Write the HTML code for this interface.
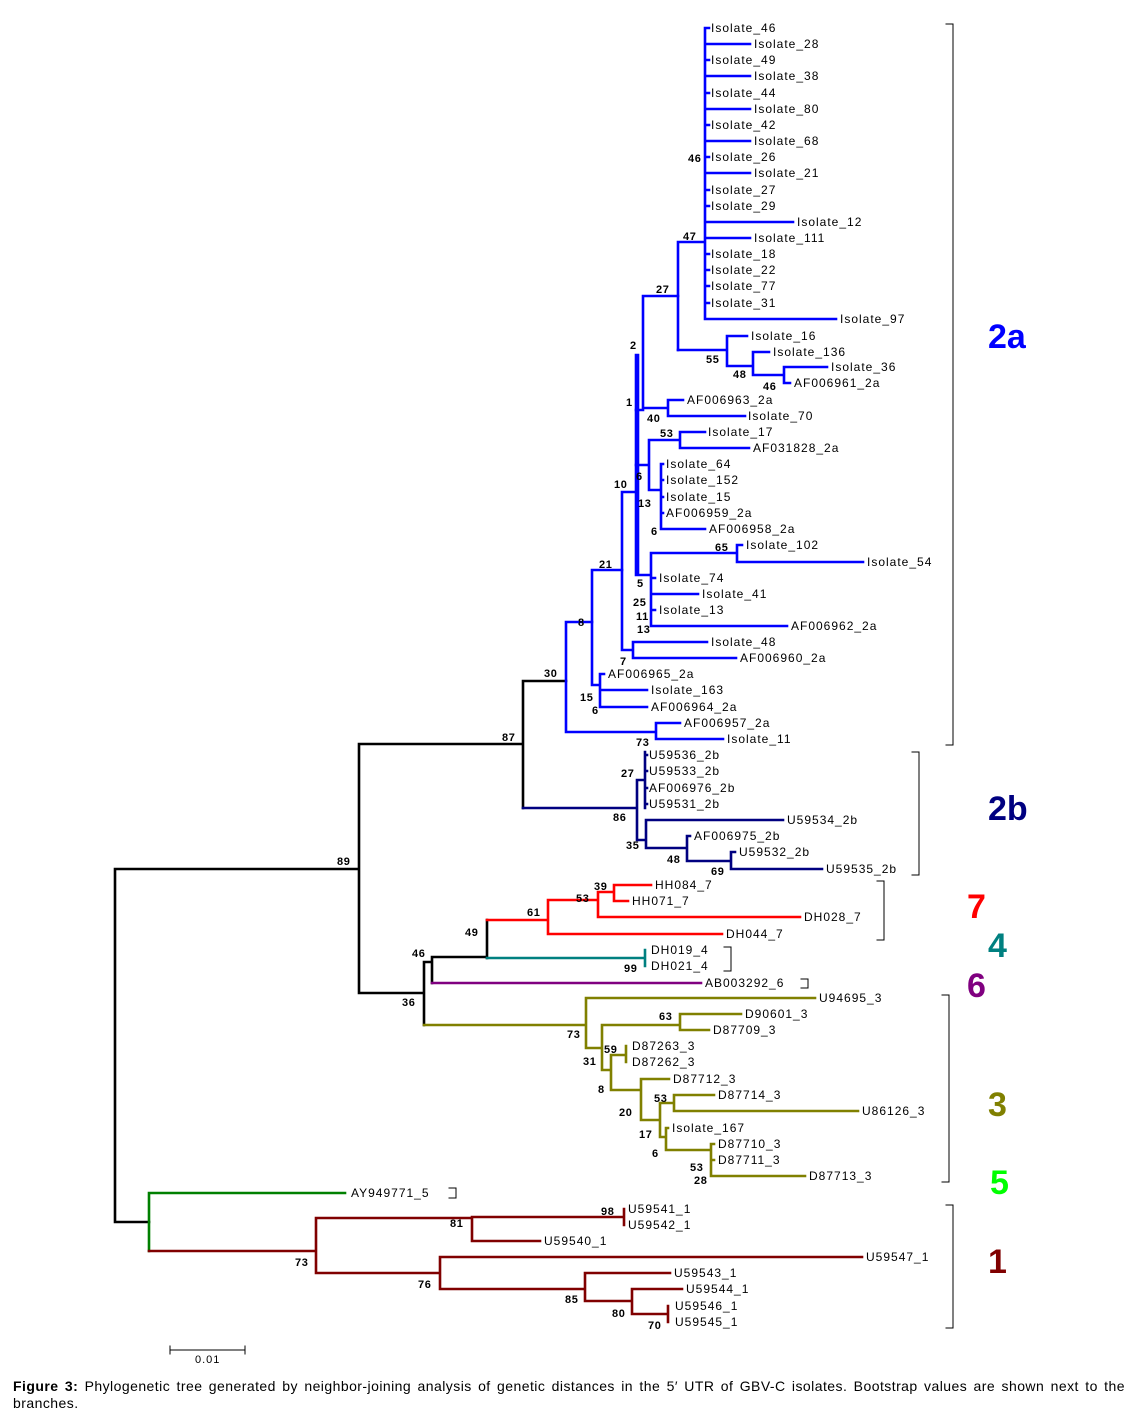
<!DOCTYPE html>
<html><head><meta charset="utf-8"><style>
body{margin:0;background:#fff;width:1132px;height:1419px;overflow:hidden;font-family:"Liberation Sans",sans-serif}
svg{position:absolute;left:0;top:0}
.l{font-size:12px;fill:#000;letter-spacing:1px}
.b{font-size:11px;font-weight:bold;fill:#000;letter-spacing:0.6px}
.cap{position:absolute;left:13px;top:1378px;width:1112px;font-size:14px;line-height:17px;text-align:justify;letter-spacing:0.45px}
</style></head><body>
<svg width="1132" height="1419" xmlns="http://www.w3.org/2000/svg" fill="none" stroke-width="2.6" stroke-linecap="square">
<g stroke="#000">
<path d="M115 869V1222M115 869H359M115 1222H149M359 744V993M359 744H523M359 993H424M424 962V1025M424 962H432M432 957V983M432 957H487M487 920V958M523 681V808M523 681H566"/>
</g>
<g stroke="#0000ff">
<path d="M566 622V732M566 622H592M566 732H656M656 723V739M656 723H680M656 739H723"/>
<path d="M592 570V685M592 570H622M592 685H600M600 674V707M600 674H604M600 690H647M600 707H647"/>
<path d="M622 492V650M622 492H636M622 650H633M633 642V658M633 642H707M633 658H736"/>
<path d="M636 355V575M638 355V575M636 575H651M651 553V626M651 553H737M737 545V562M737 545H742M737 562H863M651 578H655M651 594H698M651 610H655M651 626H787"/>
<path d="M636 410H643M643 296V410M643 296H678M643 408H668M668 400V416M668 400H683M668 416H745"/>
<path d="M636 465H649M649 440V490M649 440H680M680 432V448M680 432H705M680 448H749M649 490H661M661 464V529M661 464H663M661 480H663M661 497H663M661 513H663M661 529H705"/>
<path d="M678 242V350M678 242H705M705 28V319M705 28H709M705 44H750M705 60H709M705 76H750M705 93H709M705 109H750M705 125H709M705 141H750M705 157H709M705 173H750M705 190H709M705 206H709M705 222H793M705 238H750M705 254H709M705 270H709M705 286H709M705 303H709M705 319H836"/>
<path d="M678 350H727M727 336V366M727 336H747M727 366H753M753 352V375M753 352H769M753 375H784M784 367V383M784 367H827M784 383H790"/>
</g>
<g stroke="#000080">
<path d="M523 808H637M637 780V840M637 780H645M645 752V808M645 755H647M645 771H647M645 788H647M645 804H647M637 840H646M646 820V848M646 820H783M646 848H687M687 836V861M687 836H690M687 861H731M731 852V869M731 852H735M731 869H822"/>
</g>
<g stroke="#ff0000">
<path d="M487 920H548M548 900V934M548 900H598M598 892V917M598 892H614M614 885V901M614 885H651M614 901H628M598 917H800M548 934H722"/>
</g>
<g stroke="#008080"><path d="M487 958H645M645 950V966"/></g>
<g stroke="#800080"><path d="M432 983H701"/></g>
<g stroke="#808000">
<path d="M424 1025H586M586 998V1048M586 998H815M586 1048H602M602 1025V1070M602 1025H680M680 1014V1030M680 1014H741M680 1030H709M602 1070H611M611 1055V1090M611 1055H626M626 1046V1062M611 1090H641M641 1079V1120M641 1079H669M641 1120H660M660 1103V1137M660 1103H674M674 1095V1111M674 1095H714M674 1111H858M660 1137H666M666 1128V1150M666 1128H668M666 1150H711M711 1144V1176M711 1144H714M711 1160H714M711 1176H805"/>
</g>
<g stroke="#008000"><path d="M149 1193V1251M149 1193H345"/></g>
<g stroke="#800000">
<path d="M149 1251H316M316 1218V1273M316 1218H472M472 1217V1241M472 1217H624M624 1209V1225M472 1241H540M316 1273H440M440 1257V1289M440 1257H862M440 1289H585M585 1273V1301M585 1273H670M585 1301H632M632 1289V1314M632 1289H682M632 1314H668M668 1306V1322"/>
</g>
<g stroke="#000" stroke-width="1">
<path d="M946 24H953V745H946M912 752H919V875H912M877 881H884V940H877M724 947H731V971H724M801 979H808V988H801M942 995H949V1182H942M449 1188H456V1198H449M946 1205H953V1328H946"/>
<path d="M170 1350H245M170 1346V1354M245 1346V1354"/>
</g>
<g class="l" stroke="none">
<text x="711" y="32">Isolate_46</text><text x="754" y="48">Isolate_28</text><text x="711" y="64">Isolate_49</text><text x="754" y="80">Isolate_38</text><text x="711" y="97">Isolate_44</text><text x="754" y="113">Isolate_80</text><text x="711" y="129">Isolate_42</text><text x="754" y="145">Isolate_68</text><text x="711" y="161">Isolate_26</text><text x="754" y="177">Isolate_21</text><text x="711" y="194">Isolate_27</text><text x="711" y="210">Isolate_29</text><text x="797" y="226">Isolate_12</text><text x="754" y="242">Isolate_111</text><text x="711" y="258">Isolate_18</text><text x="711" y="274">Isolate_22</text><text x="711" y="290">Isolate_77</text><text x="711" y="307">Isolate_31</text><text x="840" y="323">Isolate_97</text>
<text x="751" y="340">Isolate_16</text><text x="773" y="356">Isolate_136</text><text x="831" y="371">Isolate_36</text><text x="794" y="387">AF006961_2a</text>
<text x="687" y="404">AF006963_2a</text><text x="748" y="420">Isolate_70</text><text x="708" y="436">Isolate_17</text><text x="753" y="452">AF031828_2a</text>
<text x="666" y="468">Isolate_64</text><text x="666" y="484">Isolate_152</text><text x="666" y="501">Isolate_15</text><text x="666" y="517">AF006959_2a</text><text x="709" y="533">AF006958_2a</text>
<text x="746" y="549">Isolate_102</text><text x="867" y="566">Isolate_54</text><text x="659" y="582">Isolate_74</text><text x="702" y="598">Isolate_41</text><text x="659" y="614">Isolate_13</text><text x="791" y="630">AF006962_2a</text>
<text x="711" y="646">Isolate_48</text><text x="740" y="662">AF006960_2a</text><text x="608" y="678">AF006965_2a</text><text x="651" y="694">Isolate_163</text><text x="651" y="711">AF006964_2a</text><text x="684" y="727">AF006957_2a</text><text x="727" y="743">Isolate_11</text>
<text x="649" y="759">U59536_2b</text><text x="649" y="775">U59533_2b</text><text x="649" y="792">AF006976_2b</text><text x="649" y="808">U59531_2b</text><text x="787" y="824">U59534_2b</text><text x="694" y="840">AF006975_2b</text><text x="739" y="856">U59532_2b</text><text x="826" y="873">U59535_2b</text>
<text x="655" y="889">HH084_7</text><text x="632" y="905">HH071_7</text><text x="804" y="921">DH028_7</text><text x="726" y="938">DH044_7</text><text x="651" y="954">DH019_4</text><text x="651" y="970">DH021_4</text><text x="705" y="987">AB003292_6</text>
<text x="819" y="1002">U94695_3</text><text x="745" y="1018">D90601_3</text><text x="713" y="1034">D87709_3</text><text x="632" y="1050">D87263_3</text><text x="632" y="1066">D87262_3</text><text x="673" y="1083">D87712_3</text><text x="718" y="1099">D87714_3</text><text x="862" y="1115">U86126_3</text><text x="672" y="1132">Isolate_167</text><text x="718" y="1148">D87710_3</text><text x="718" y="1164">D87711_3</text><text x="809" y="1180">D87713_3</text>
<text x="351" y="1197">AY949771_5</text><text x="628" y="1213">U59541_1</text><text x="628" y="1229">U59542_1</text><text x="544" y="1245">U59540_1</text><text x="866" y="1261">U59547_1</text><text x="674" y="1277">U59543_1</text><text x="686" y="1293">U59544_1</text><text x="675" y="1310">U59546_1</text><text x="675" y="1326">U59545_1</text>
<text x="195" y="1363" style="font-size:11px">0.01</text>
</g>
<g class="b" stroke="none">
<text x="688" y="162">46</text><text x="683" y="240">47</text><text x="656" y="293">27</text><text x="706" y="363">55</text><text x="733" y="378">48</text><text x="763" y="390">46</text><text x="630" y="349">2</text><text x="626" y="406">1</text><text x="647" y="422">40</text><text x="660" y="437">53</text><text x="636" y="480">6</text><text x="638" y="507">13</text><text x="651" y="535">6</text><text x="614" y="488">10</text><text x="599" y="568">21</text><text x="578" y="626">8</text><text x="544" y="677">30</text><text x="715" y="551">65</text><text x="637" y="587">5</text><text x="633" y="606">25</text><text x="636" y="620">11</text><text x="637" y="633">13</text><text x="620" y="665">7</text><text x="580" y="701">15</text><text x="592" y="714">6</text><text x="636" y="746">73</text><text x="502" y="741">87</text>
<text x="621" y="777">27</text><text x="613" y="821">86</text><text x="626" y="849">35</text><text x="667" y="863">48</text><text x="711" y="875">69</text>
<text x="337" y="865">89</text><text x="594" y="890">39</text><text x="576" y="902">53</text><text x="527" y="916">61</text><text x="465" y="936">49</text><text x="412" y="957">46</text><text x="624" y="972">99</text><text x="402" y="1006">36</text>
<text x="567" y="1038">73</text><text x="659" y="1020">63</text><text x="604" y="1053">59</text><text x="583" y="1065">31</text><text x="598" y="1093">8</text><text x="654" y="1102">53</text><text x="619" y="1116">20</text><text x="639" y="1138">17</text><text x="652" y="1157">6</text><text x="690" y="1171">53</text><text x="694" y="1184">28</text>
<text x="601" y="1215">98</text><text x="450" y="1227">81</text><text x="295" y="1266">73</text><text x="418" y="1288">76</text><text x="565" y="1303">85</text><text x="612" y="1317">80</text><text x="648" y="1329">70</text>
</g>
<g stroke="none" font-weight="bold" font-size="34">
<text x="988" y="348" fill="#0000ff">2a</text><text x="988" y="820" fill="#000080">2b</text><text x="967" y="918" fill="#ff0000">7</text><text x="988" y="957" fill="#008080">4</text><text x="967" y="997" fill="#800080">6</text><text x="988" y="1116" fill="#808000">3</text><text x="990" y="1194" fill="#00ff00">5</text><text x="988" y="1273" fill="#800000">1</text>
</g>
</svg>
<div class="cap"><b>Figure 3:</b> Phylogenetic tree generated by neighbor-joining analysis of genetic distances in the 5′ UTR of GBV-C isolates. Bootstrap values are shown next to the branches.</div>
</body></html>
